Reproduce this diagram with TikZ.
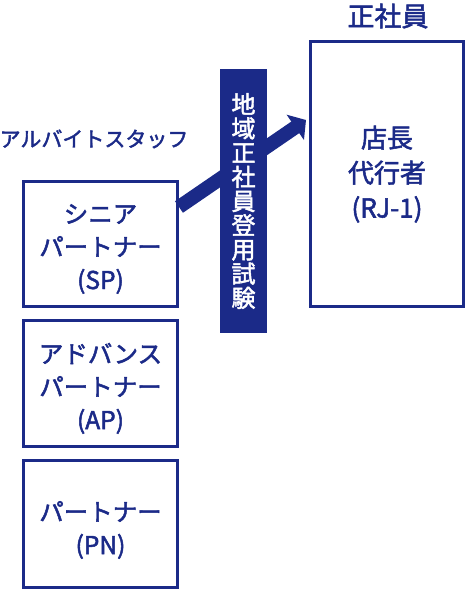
\documentclass[tikz,border=0pt]{standalone}
\usepackage{fontspec}
\setmainfont{Noto Sans CJK JP}[FakeBold=2]
\usepackage{tikz}
\usetikzlibrary{arrows.meta}
\definecolor{navy}{HTML}{1B2A88}
\tikzset{
  rankbox/.style={draw=navy, line width=3pt, inner sep=0pt, align=center, text=navy, text depth=0pt, font=\fontsize{24.5}{33}\selectfont},
  grouplab/.style={text=navy, inner sep=0pt, font=\fontsize{21}{24}\selectfont},
  exambar/.style={fill=navy, inner sep=0pt, minimum width=47pt, minimum height=264pt, align=center, text=white, font=\fontsize{24}{24.2}\selectfont},
  promo/.style={draw=navy, line width=14pt, -{Triangle[width=30pt,length=13pt]}},
}

\begin{document}
\begin{tikzpicture}[x=1pt,y=-1pt]
  \useasboundingbox (0,0) rectangle (466,589);
  % part-time staff
  \node[rankbox, minimum width=154pt, minimum height=125pt, text height=90pt] (sp) at (100.5,244) {シニア\\パートナー\\(SP)};
  \node[rankbox, minimum width=154pt, minimum height=126pt, text height=91pt] (ap) at (100.5,383.5) {アドバンス\\パートナー\\(AP)};
  \node[rankbox, minimum width=154pt, minimum height=127pt, text height=60pt] (pn) at (100.5,524) {パートナー\\(PN)};
  \node[grouplab] (staff) at (94,139) {アルバイトスタッフ};
  % regular employee
  \node[rankbox, minimum width=153pt, minimum height=265pt, text height=87pt, font=\fontsize{26}{35}\selectfont] (rj) at (387,174) {店長\\代行者\\(RJ-1)};
  \node[grouplab, font=\fontsize{27}{28}\selectfont] (regular) at (388,16) {正社員};
  % promotion arrow, hidden under the exam bar
  \coordinate (promo start) at ([yshift=-27pt]sp.north east);
  \coordinate (promo end) at ([shift={(-3pt,-80pt)}]rj.north west);
  \draw[promo] (promo start) -- (promo end);
  \node[exambar] (exam) at (243.5,201) {地\\域\\正\\社\\員\\登\\用\\試\\験};
\end{tikzpicture}
\end{document}
